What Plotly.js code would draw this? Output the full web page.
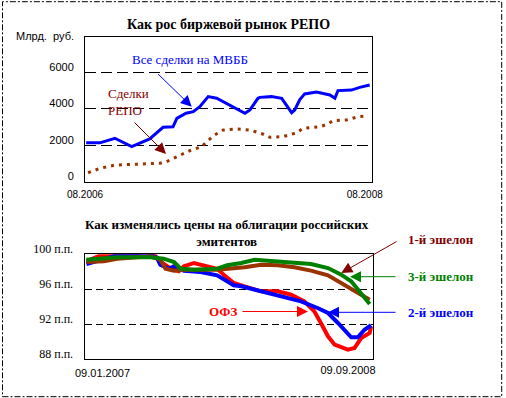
<!DOCTYPE html>
<html>
<head>
<meta charset="utf-8">
<script src="https://cdn.plot.ly/plotly-3.0.1.min.js"></script>
<style>html,body{margin:0;padding:0;background:#fff;}#chart{width:506px;height:398px;}</style>
</head>
<body>
<div id="chart"></div>
<script>
// ---------- Data: top chart (Млрд. руб.) ----------
const topTitle = 'Как рос биржевой рынок РЕПО';
const topXTickVals = ['2006-08-01', '2008-08-01'];
const topXTickText = ['08.2006', '08.2008'];
const topYTickVals = [0, 2000, 4000, 6000];
const allDealsName = 'Все сделки на МВББ';
const allDealsDates = ['2006-08-04','2006-09-09','2006-10-18','2006-12-01','2007-01-17','2007-02-21','2007-03-19','2007-03-29','2007-04-22','2007-05-11','2007-05-28','2007-06-19','2007-07-11','2007-08-23','2007-09-23','2007-10-06','2007-10-27','2007-11-01','2007-12-01','2007-12-28','2008-01-10','2008-01-23','2008-01-31','2008-02-13','2008-02-26','2008-03-28','2008-05-02','2008-05-15','2008-05-23','2008-06-27','2008-07-19','2008-08-14'];
const allDealsValues = [2120,2120,2370,1910,2330,2970,3000,3460,3740,3830,4100,4650,4560,4100,3740,3920,4560,4610,4650,4560,4190,3770,3920,4470,4800,4900,4740,4560,4980,5010,5160,5290];
const repoName = 'Сделки<br>РЕПО';
const repoDates = ['2006-08-09','2006-09-09','2006-10-18','2006-12-22','2007-02-13','2007-03-02','2007-03-28','2007-05-02','2007-06-02','2007-06-15','2007-07-06','2007-07-28','2007-09-01','2007-10-06','2007-11-10','2007-11-27','2008-01-01','2008-02-05','2008-02-22','2008-04-06','2008-04-27','2008-05-10','2008-06-14','2008-07-15','2008-08-06'];
const repoValues = [480,720,900,940,1000,1090,1360,1690,1910,2180,2550,2820,2880,2820,2590,2420,2460,2670,2920,3000,3150,3330,3370,3550,3590];

// ---------- Data: bottom chart (п.п.) ----------
const bottomTitle = 'Как изменялись цены на облигации российских<br>эмитентов';
const bottomXStart = '2007-01-09';
const bottomXEnd = '2008-09-09';
const bottomXTickText = ['09.01.2007', '09.09.2008'];
const bottomYTickVals = [88, 92, 96, 100];
const bottomYTickText = ['88 п.п.', '92 п.п.', '96 п.п.', '100 п.п.'];

const ofzName = 'ОФЗ';
const ofzDates = ['2007-01-13','2007-02-12','2007-03-19','2007-04-23','2007-05-18','2007-06-04','2007-06-18','2007-07-10','2007-07-27','2007-08-07','2007-08-28','2007-09-18','2007-10-16','2007-10-30','2007-11-20','2007-12-13','2008-01-17','2008-02-21','2008-03-20','2008-04-17','2008-05-08','2008-05-22','2008-06-06','2008-06-20','2008-07-18','2008-08-01','2008-08-15','2008-09-02','2008-09-05'];
const ofzValues = [99.20,99.89,100.03,100.03,100.34,100.03,99.20,98.35,98.06,98.63,99.01,98.74,98.35,97.67,96.72,96.34,95.77,95.77,95.38,94.63,93.49,92.15,90.63,89.67,89.10,89.29,90.43,91.01,91.77];

const tier2Name = '2-й эшелон';
const tier2Dates = ['2007-01-13','2007-02-12','2007-03-19','2007-04-23','2007-05-28','2007-06-11','2007-06-18','2007-07-06','2007-07-17','2007-08-07','2007-09-11','2007-10-16','2007-11-06','2007-11-20','2007-12-06','2008-01-17','2008-02-28','2008-04-10','2008-05-15','2008-06-06','2008-06-27','2008-07-25','2008-08-08','2008-08-22','2008-09-05'];
const tier2Values = [98.89,99.38,99.89,100.03,99.95,99.58,98.81,98.35,98.63,98.13,97.98,97.60,96.91,96.46,96.35,95.77,95.20,94.63,93.86,93.29,92.15,90.51,90.51,91.38,91.89];

const tier3Name = '3-й эшелон';
const tier3Dates = ['2007-01-13','2007-02-12','2007-03-19','2007-05-28','2007-06-25','2007-07-17','2007-07-31','2007-08-28','2007-10-16','2007-11-06','2007-12-06','2008-01-03','2008-02-21','2008-05-01','2008-06-06','2008-07-04','2008-07-25','2008-08-15','2008-09-02'];
const tier3Values = [99.38,99.50,99.66,99.66,99.50,99.12,98.35,98.24,98.35,98.74,99.01,99.38,99.20,98.89,98.43,97.67,96.91,95.58,94.32];

const tier1Name = '1-й эшелон';
const tier1Dates = ['2007-01-13','2007-02-19','2007-03-19','2007-05-28','2007-06-18','2007-06-29','2007-07-17','2007-08-07','2007-10-16','2007-11-07','2007-12-13','2008-01-17','2008-02-21','2008-03-27','2008-05-01','2008-06-06','2008-07-04','2008-08-01','2008-09-02'];
const tier1Values = [99.12,99.20,99.50,99.77,99.38,98.35,98.13,98.24,98.24,98.35,98.51,98.81,98.74,98.51,98.13,97.60,96.72,95.77,94.81];

// ---------- Layout helpers ----------
const W = 506, H = 398;
const px = x => x / W;
const py = y => 1 - y / H;
const SERIF = '"Liberation Serif", "DejaVu Serif", serif';
const SANS = '"Liberation Sans", Arial, sans-serif';

const traces = [
  {x: repoDates, y: repoValues, xaxis: 'x', yaxis: 'y', mode: 'lines', name: 'Сделки РЕПО',
   line: {color: '#993300', width: 3, dash: '3px,5px'}},
  {x: allDealsDates, y: allDealsValues, xaxis: 'x', yaxis: 'y', mode: 'lines', name: allDealsName,
   line: {color: '#0000ff', width: 3}},
  {x: ofzDates, y: ofzValues, xaxis: 'x2', yaxis: 'y2', mode: 'lines', name: ofzName,
   line: {color: '#ff0000', width: 4}},
  {x: tier2Dates, y: tier2Values, xaxis: 'x2', yaxis: 'y2', mode: 'lines', name: tier2Name,
   line: {color: '#0000ff', width: 4}},
  {x: tier1Dates, y: tier1Values, xaxis: 'x2', yaxis: 'y2', mode: 'lines', name: tier1Name,
   line: {color: '#993300', width: 4}},
  {x: tier3Dates, y: tier3Values, xaxis: 'x3', yaxis: 'y2', mode: 'lines', name: tier3Name,
   line: {color: '#008000', width: 4}}
];

function arrow(headX, headY, tailX, tailY, color) {
  return {xref: 'paper', yref: 'paper', x: px(headX), y: py(headY), text: '',
    showarrow: true, ax: tailX - headX, ay: tailY - headY, axref: 'pixel', ayref: 'pixel',
    arrowcolor: color, arrowwidth: 1, arrowhead: 2, arrowsize: 2.2};
}
function label(text, x, y, color, opts) {
  return Object.assign({xref: 'paper', yref: 'paper', x: px(x), y: py(y), text: text,
    showarrow: false, xanchor: 'center', yanchor: 'middle',
    font: {family: SERIF, size: 13, color: color}}, opts || {});
}

const annotations = [
  label('<b>' + topTitle + '</b>', 228.5, 25, '#000', {font: {family: SERIF, size: 14, color: '#000'}}),
  label('Млрд.  руб.', 45, 36, '#000', {font: {family: SANS, size: 11, color: '#000'}}),
  label(allDealsName, 130, 60, '#0000ff', {xanchor: 'left'}),
  label(repoName, 106, 102, '#800000', {xanchor: 'left', align: 'left'}),
  arrow(191.7, 106.7, 156.7, 72.7, '#0000ff'),
  arrow(166, 154, 133, 121, '#800000'),
  label('<b>' + bottomTitle + '</b>', 227, 233, '#000', {font: {family: SERIF, size: 13, color: '#000'}}),
  label('<b>' + ofzName + '</b>', 239, 311.5, '#ff0000', {xanchor: 'right', font: {family: SERIF, size: 13, color: '#ff0000'}}),
  arrow(308, 311.5, 241, 311.5, '#ff0000'),
  label('<b>' + tier2Name + '</b>', 406, 312, '#0000ff', {xanchor: 'left', font: {family: SERIF, size: 13, color: '#0000ff'}}),
  arrow(328, 312.3, 397, 312.3, '#0000ff'),
  label('<b>' + tier3Name + '</b>', 406, 276.7, '#008000', {xanchor: 'left', font: {family: SERIF, size: 13, color: '#008000'}}),
  arrow(350, 276.7, 397, 276.7, '#008000'),
  label('<b>' + tier1Name + '</b>', 406, 240, '#800000', {xanchor: 'left', font: {family: SERIF, size: 13, color: '#800000'}}),
  arrow(341.3, 273, 398, 240.7, '#800000')
];

const layout = {
  width: W, height: H,
  margin: {l: 0, r: 0, t: 0, b: 0},
  paper_bgcolor: '#ffffff', plot_bgcolor: '#ffffff',
  showlegend: false,
  xaxis: {domain: [px(85), px(372)], anchor: 'y', type: 'date',
    range: ['2006-08-01', '2008-08-20'], tickmode: 'array', tickvals: topXTickVals, ticktext: topXTickText,
    showgrid: false, zeroline: false, showline: true, mirror: true, linecolor: '#000', linewidth: 1,
    ticks: '', ticklabelstandoff: 3, tickfont: {family: SANS, size: 10, color: '#000'}},
  yaxis: {domain: [py(181.5), py(36.7)], anchor: 'x', range: [0, 7934],
    tickmode: 'array', tickvals: topYTickVals,
    showgrid: true, gridcolor: '#000', gridwidth: 1, griddash: '11px,5px',
    zeroline: false, showline: true, mirror: true, linecolor: '#000', linewidth: 1,
    ticks: '', ticklabelstandoff: 8, ticklabelshift: -5, tickfont: {family: SANS, size: 11, color: '#000'}},
  xaxis2: {domain: [px(84.5), px(373)], anchor: 'y2', type: 'date',
    range: [bottomXStart, bottomXEnd], tickmode: 'array', tickvals: [bottomXStart], ticktext: [bottomXTickText[0]],
    showgrid: false, zeroline: false, showline: true, mirror: true, linecolor: '#000', linewidth: 1,
    ticks: '', ticklabelstandoff: 3, ticklabelshift: 18, tickfont: {family: SANS, size: 11, color: '#000'}},
  xaxis3: {domain: [px(84.5), px(373)], anchor: 'y2', overlaying: 'x2', type: 'date',
    range: [bottomXStart, bottomXEnd], tickmode: 'array', tickvals: [bottomXEnd], ticktext: [bottomXTickText[1]],
    showgrid: false, zeroline: false, showline: false, side: 'bottom',
    ticks: '', ticklabelstandoff: 3, ticklabelshift: -25, tickfont: {family: SANS, size: 11, color: '#000'}},
  yaxis2: {domain: [py(359.3), py(254.3)], anchor: 'x2', range: [88, 100],
    tickmode: 'array', tickvals: bottomYTickVals, ticktext: bottomYTickText,
    showgrid: true, gridcolor: '#000', gridwidth: 1, griddash: '7px,4px',
    zeroline: false, showline: true, mirror: true, linecolor: '#000', linewidth: 1,
    ticks: '', ticklabelstandoff: 8, ticklabelshift: -6, tickfont: {family: SERIF, size: 12, color: '#000'}},
  annotations: annotations,
  shapes: [{type: 'rect', xref: 'paper', yref: 'paper', x0: px(2.5), x1: px(501.7), y0: py(396.7), y1: py(1.7),
    line: {color: '#000', width: 1, dash: '6px,2px,2px,2px'}, fillcolor: 'rgba(0,0,0,0)'}]
};

Plotly.newPlot('chart', traces, layout, {displayModeBar: false, staticPlot: true});
</script>
</body>
</html>
